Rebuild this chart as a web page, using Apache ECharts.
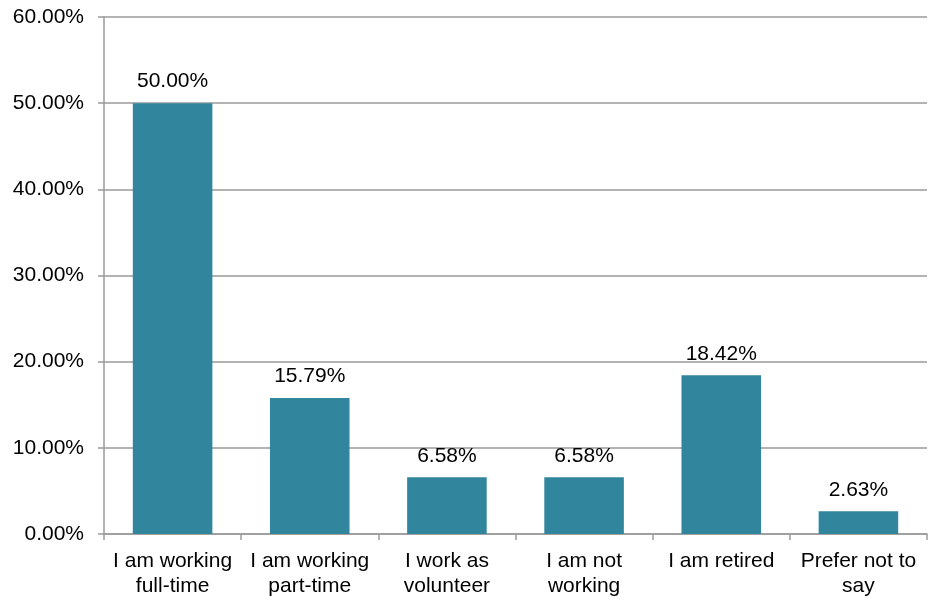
<!DOCTYPE html>
<html lang="en">
<head>
    <meta charset="UTF-8">
    <title>Employment status</title>
    <script src="https://cdn.jsdelivr.net/npm/echarts@6/dist/echarts.min.js"></script>
    <style>
        html, body { margin: 0; padding: 0; background: #fff; }
        #chart { width: 928px; height: 611px; }
    </style>
</head>
<body>
    <div id="chart"></div>
    <script>
        // categories (two-line labels as in the original)
        const categories = [
            'I am working\nfull-time',
            'I am working\npart-time',
            'I work as\nvolunteer',
            'I am not\nworking',
            'I am retired',
            'Prefer not to\nsay'
        ];
        // percent values
        const values = [50.00, 15.79, 6.58, 6.58, 18.42, 2.63];

        const axisGray = '#9a9a9a';
        const font = 'Liberation Sans, Arial, sans-serif';

        let myChart = echarts.init(document.getElementById('chart'));
        let option = {
            animation: false,
            grid: {
                left: 104,
                right: 1,
                top: 17,
                bottom: 77
            },
            xAxis: {
                type: 'category',
                data: categories,
                axisLine: { lineStyle: { color: axisGray, width: 1.5 } },
                axisTick: { show: true, length: 6, lineStyle: { color: axisGray, width: 1.5 } },
                axisLabel: {
                    color: '#000',
                    fontSize: 21,
                    fontFamily: font,
                    lineHeight: 25,
                    margin: 15,
                    interval: 0
                }
            },
            yAxis: {
                type: 'value',
                min: 0,
                max: 60,
                interval: 10,
                axisLine: { show: true, lineStyle: { color: axisGray, width: 1.5 } },
                axisTick: { show: true, length: 6, lineStyle: { color: axisGray, width: 1.5 } },
                splitLine: { lineStyle: { color: axisGray, width: 1.5 } },
                axisLabel: {
                    color: '#000',
                    fontSize: 21,
                    fontFamily: font,
                    margin: 20,
                    formatter: v => v.toFixed(2) + '%'
                }
            },
            series: [{
                type: 'bar',
                data: values,
                barWidth: '58%',
                itemStyle: { color: '#31859c' },
                label: {
                    show: true,
                    position: 'top',
                    distance: 11,
                    color: '#000',
                    fontSize: 21,
                    fontFamily: font,
                    formatter: p => p.value.toFixed(2) + '%'
                }
            }]
        };
        myChart.setOption(option);
    </script>
</body>
</html>
